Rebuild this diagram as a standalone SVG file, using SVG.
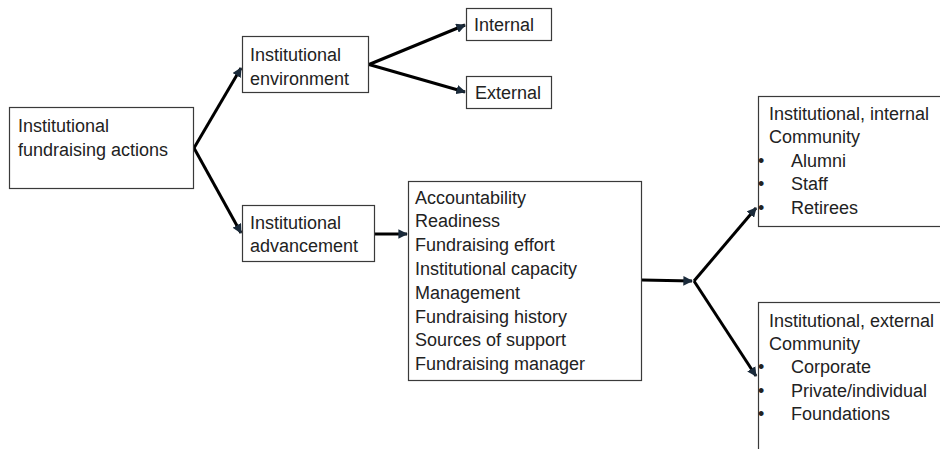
<svg xmlns="http://www.w3.org/2000/svg" width="940" height="449" viewBox="0 0 940 449">
<style>
.box{fill:#fff;stroke:#3a3a3a;stroke-width:1.2}
text{font-family:"Liberation Sans",Arial,sans-serif;font-size:18px;fill:#222}
.con{stroke:#000;stroke-width:3;fill:none;marker-end:url(#ah)}
</style>
<defs>
<marker id="ah" viewBox="0 0 10 10" refX="9" refY="5" markerWidth="3.2" markerHeight="3.2" orient="auto" markerUnits="strokeWidth">
<path d="M0,0 L10,5 L0,10 z" fill="#1a2a3a"/>
</marker>
</defs>
<g id="connectors">
<path class="con" d="M194,148 L241,68"/>
<path class="con" d="M194,148 L241,233"/>
<path class="con" d="M369,64.5 L465,25"/>
<path class="con" d="M369,64.5 L465,92"/>
<path class="con" d="M375,234 L407,234"/>
<path class="con" d="M642,280 L692,281"/>
<path class="con" d="M694,281 L756,208"/>
<path class="con" d="M694,281 L756,376"/>
</g>
<g id="n-actions">
<rect class="box" x="9.5" y="107.5" width="184" height="81"/>
<text x="18" y="131.5">Institutional</text>
<text x="18" y="155.5">fundraising actions</text>
</g>
<g id="n-environment">
<rect class="box" x="242.5" y="36.5" width="126" height="56"/>
<text x="250" y="60.5">Institutional</text>
<text x="250" y="84.5">environment</text>
</g>
<g id="n-internal">
<rect class="box" x="466.5" y="8.5" width="85" height="32"/>
<text x="474" y="31">Internal</text>
</g>
<g id="n-external">
<rect class="box" x="466.5" y="76.5" width="85" height="32"/>
<text x="475" y="99">External</text>
</g>
<g id="n-advancement">
<rect class="box" x="242.5" y="205.5" width="132" height="56"/>
<text x="250" y="228.5">Institutional</text>
<text x="250" y="252">advancement</text>
</g>
<g id="n-factors">
<rect class="box" x="408.5" y="181.5" width="233" height="199"/>
<text x="415" y="203.5">Accountability</text>
<text x="415" y="227.3">Readiness</text>
<text x="415" y="251.1">Fundraising effort</text>
<text x="415" y="274.9">Institutional capacity</text>
<text x="415" y="298.7">Management</text>
<text x="415" y="322.5">Fundraising history</text>
<text x="415" y="346.3">Sources of support</text>
<text x="415" y="370.1">Fundraising manager</text>
</g>
<g id="n-internal-community">
<rect class="box" x="758.5" y="96.5" width="190" height="130"/>
<text x="769" y="119.5">Institutional, internal</text>
<text x="769" y="143">Community</text>
<text x="758" y="166.5">•</text><text x="791" y="166.5">Alumni</text>
<text x="758" y="190">•</text><text x="791" y="190">Staff</text>
<text x="758" y="213.5">•</text><text x="791" y="213.5">Retirees</text>
</g>
<g id="n-external-community">
<rect class="box" x="758.5" y="302.5" width="190" height="160"/>
<text x="769" y="326.5">Institutional, external</text>
<text x="769" y="350">Community</text>
<text x="758" y="373">•</text><text x="791" y="373">Corporate</text>
<text x="758" y="396.5">•</text><text x="791" y="396.5">Private/individual</text>
<text x="758" y="420">•</text><text x="791" y="420">Foundations</text>
</g>
</svg>
